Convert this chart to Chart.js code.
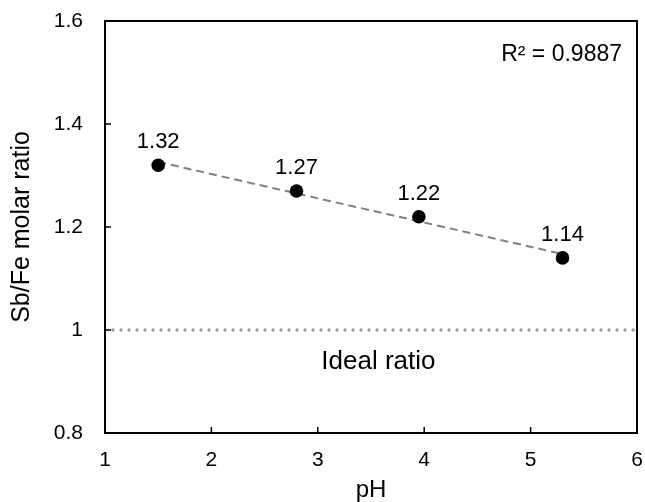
<!DOCTYPE html>
<html>
<head>
<meta charset="utf-8">
<script src="https://cdn.jsdelivr.net/npm/chart.js@4.4.1/dist/chart.umd.min.js"></script>
<style>
  html, body { margin: 0; padding: 0; background: #fff; }
  #wrap { width: 645px; height: 502px; position: relative; }
</style>
</head>
<body>
<div id="wrap"><canvas id="chart"></canvas></div>
<script>
// ── Data ─────────────────────────────────────
const pH = [1.5, 2.8, 3.95, 5.3];
const sbFeRatio = [1.32, 1.27, 1.22, 1.14];
const idealRatio = 1;
const rSquared = 0.9887;
const xTicks = [1, 2, 3, 4, 5, 6];
const yTicks = [0.8, 1, 1.2, 1.4, 1.6];

// ── Linear fit ───────────────────────────────
const n = pH.length;
const mx = pH.reduce((a, b) => a + b, 0) / n;
const my = sbFeRatio.reduce((a, b) => a + b, 0) / n;
let sxy = 0, sxx = 0;
pH.forEach((x, i) => { sxy += (x - mx) * (sbFeRatio[i] - my); sxx += (x - mx) * (x - mx); });
const slope = sxy / sxx, icpt = my - slope * mx;
const fit = x => icpt + slope * x;

const font = "Arial, 'Liberation Sans', sans-serif";

// ── Plugins ──────────────────────────────────
const frame = {
  id: 'frame',
  afterDatasetsDraw(chart) {
    const { ctx, chartArea: a, scales: { x, y } } = chart;
    ctx.save();
    ctx.strokeStyle = '#000';
    ctx.lineWidth = 1.5;
    // inward tick marks
    ctx.beginPath();
    xTicks.forEach(v => { const px = x.getPixelForValue(v); ctx.moveTo(px, a.bottom); ctx.lineTo(px, a.bottom - 6); });
    yTicks.forEach(v => { const py = y.getPixelForValue(v); ctx.moveTo(a.left, py); ctx.lineTo(a.left + 6, py); });
    ctx.stroke();
    ctx.lineWidth = 2;
    ctx.strokeRect(a.left, a.top, a.right - a.left, a.bottom - a.top);

    // value labels over the points
    ctx.fillStyle = '#000';
    ctx.font = `22px ${font}`;
    ctx.textAlign = 'center';
    ctx.textBaseline = 'middle';
    chart.getDatasetMeta(0).data.forEach((pt, i) => {
      ctx.fillText(sbFeRatio[i].toFixed(2), pt.x, pt.y - 23);
    });

    // annotations
    ctx.font = `26px ${font}`;
    ctx.fillText('Ideal ratio', x.getPixelForValue(3.57), y.getPixelForValue(0.938));
    ctx.font = `23px ${font}`;
    ctx.textAlign = 'right';
    ctx.fillText('R\u00b2 = ' + rSquared.toFixed(4), a.right - 15, a.top + 34);
    ctx.restore();
  }
};

// ── Chart ────────────────────────────────────
new Chart(document.getElementById('chart'), {
  type: 'scatter',
  data: {
    datasets: [
      {
        label: 'Sb/Fe', order: 0,
        data: pH.map((x, i) => ({ x, y: sbFeRatio[i] })),
        pointRadius: 6.8, pointHoverRadius: 6.8,
        pointBackgroundColor: '#000', pointBorderWidth: 0, showLine: false
      },
      {
        label: 'Trend', order: 1, type: 'line',
        data: [{ x: pH[0], y: fit(pH[0]) }, { x: pH[n - 1], y: fit(pH[n - 1]) }],
        borderColor: '#808080', borderWidth: 2, borderDash: [8, 5],
        pointRadius: 0, fill: false, tension: 0
      },
      {
        label: 'Ideal', order: 2, type: 'line',
        data: [{ x: xTicks[0], y: idealRatio }, { x: xTicks[xTicks.length - 1], y: idealRatio }],
        borderColor: '#a0a0a0', borderWidth: 3.5, borderDash: [0, 8], borderCapStyle: 'round',
        pointRadius: 0, fill: false, tension: 0
      }
    ]
  },
  options: {
    responsive: true, maintainAspectRatio: false, animation: false,
    layout: { padding: { left: 0, right: 8, top: 21, bottom: 0 } },
    plugins: { legend: { display: false }, tooltip: { enabled: false } },
    scales: {
      x: {
        type: 'linear', min: xTicks[0], max: xTicks[xTicks.length - 1],
        afterBuildTicks: s => { s.ticks = xTicks.map(v => ({ value: v })); },
        afterFit: s => { s.height = 69; s.paddingLeft = 0; s.paddingRight = 0; },
        grid: { display: false, drawTicks: false }, border: { display: false },
        ticks: { color: '#000', padding: 15, maxRotation: 0, font: { family: font, size: 21 }, callback: v => String(v) },
        title: { display: true, text: 'pH', color: '#000', font: { family: font, size: 24, lineHeight: 1 }, padding: { top: 0, bottom: 0 } }
      },
      y: {
        type: 'linear', min: yTicks[0], max: yTicks[yTicks.length - 1],
        afterBuildTicks: s => { s.ticks = yTicks.map(v => ({ value: v })); },
        afterFit: s => { s.width = 105; s.paddingTop = 0; s.paddingBottom = 0; },
        grid: { display: false, drawTicks: false }, border: { display: false },
        ticks: { color: '#000', padding: 22, font: { family: font, size: 21 }, callback: v => String(+v.toFixed(1)) },
        title: { display: true, text: 'Sb/Fe molar ratio', color: '#000', font: { family: font, size: 25, lineHeight: 1 }, padding: { top: 9.5, bottom: 0 } }
      }
    }
  },
  plugins: [frame]
});
</script>
</body>
</html>
